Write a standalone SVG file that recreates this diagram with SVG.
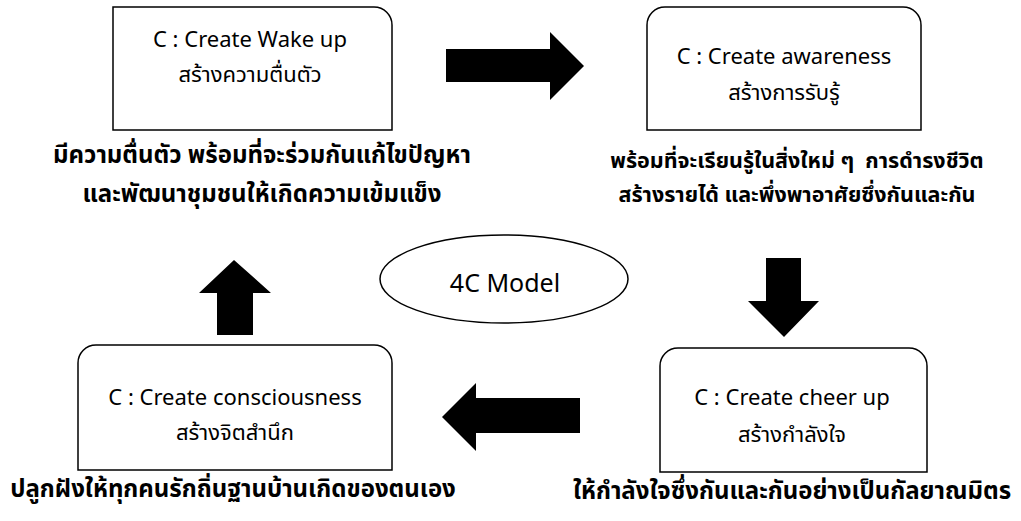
<svg xmlns="http://www.w3.org/2000/svg" width="1021" height="521" viewBox="0 0 1021 521">
<style>
.box{fill:#fff;stroke:#000;stroke-width:1.5}
.t{font-family:"Noto Sans Thai","Noto Sans","DejaVu Sans",sans-serif;font-size:22px;fill:#000;text-anchor:middle}
.c{font-family:"Noto Sans Thai","Noto Sans","DejaVu Sans",sans-serif;font-size:24px;font-weight:bold;fill:#000;text-anchor:middle}
.arr{fill:#000}
</style>
<rect width="1021" height="521" fill="#fff"/>
<g id="node-wakeup">
<path class="box" d="M113,7 H374 A18,18 0 0 1 392,25 V130 H113 Z"/>
<text class="t" x="250" y="47">C : Create Wake up</text>
<text class="t" x="250" y="82">สร้างความตื่นตัว</text>
<text class="c" x="262" y="163">มีความตื่นตัว พร้อมที่จะร่วมกันแก้ไขปัญหา</text>
<text class="c" x="262" y="202">และพัฒนาชุมชนให้เกิดความเข้มแข็ง</text>
</g>
<g id="node-awareness">
<path class="box" d="M665,7 H903 A18,18 0 0 1 921,25 V130 H647 V25 A18,18 0 0 1 665,7 Z"/>
<text class="t" x="784" y="64">C : Create awareness</text>
<text class="t" x="784" y="100">สร้างการรับรู้</text>
<text class="c" x="797" y="168" style="font-size:21.5px" xml:space="preserve">พร้อมที่จะเรียนรู้ในสิ่งใหม่ ๆ  การดำรงชีวิต</text>
<text class="c" x="797" y="202" style="font-size:21.5px">สร้างรายได้ และพึ่งพาอาศัยซึ่งกันและกัน</text>
</g>
<g id="node-cheerup">
<path class="box" d="M678,348 H909 A18,18 0 0 1 927,366 V472 H660 V366 A18,18 0 0 1 678,348 Z"/>
<text class="t" x="792" y="405">C : Create cheer up</text>
<text class="t" x="792" y="442">สร้างกำลังใจ</text>
<text class="c" x="792" y="499">ให้กำลังใจซึ่งกันและกันอย่างเป็นกัลยาณมิตร</text>
</g>
<g id="node-consciousness">
<path class="box" d="M96,345 H374 A18,18 0 0 1 392,363 V470 H78 V363 A18,18 0 0 1 96,345 Z"/>
<text class="t" x="235" y="405">C : Create consciousness</text>
<text class="t" x="235" y="440">สร้างจิตสำนึก</text>
<text class="c" x="233" y="497">ปลูกฝังให้ทุกคนรักถิ่นฐานบ้านเกิดของตนเอง</text>
</g>
<g id="node-model">
<ellipse class="box" cx="504" cy="279" rx="124" ry="44"/>
<text class="t" x="505" y="292" style="font-size:25px">4C Model</text>
</g>
<g id="connectors">
<polygon class="arr" points="446,49 550,49 550,32 584,66 550,100 550,82 446,82"/>
<polygon class="arr" points="766,258 801,258 801,301 819,301 784,337 748,301 766,301"/>
<polygon class="arr" points="580,398 476,398 476,383 442,417 476,451 476,433 580,433"/>
<polygon class="arr" points="217,335 217,293 199,293 234,260 271,293 253,293 253,335"/>
</g>
</svg>
